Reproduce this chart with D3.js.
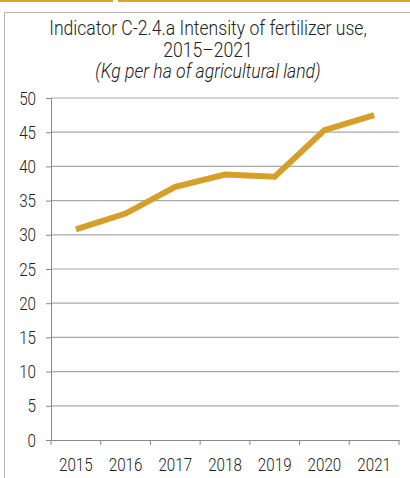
<!DOCTYPE html>
<html>
<head>
<meta charset="utf-8">
<script src="https://cdn.jsdelivr.net/npm/d3@7"></script>
<style>
  body { margin: 0; background: #fff; }
  text { font-family: Roboto, sans-serif; font-weight: 300; fill: #222; }
</style>
</head>
<body>
<div id="chart"></div>
<script>
// data
var years = ["2015", "2016", "2017", "2018", "2019", "2020", "2021"];
var values = [30.8, 33.1, 37.0, 38.8, 38.5, 45.3, 47.5];
var yTicks = [0, 5, 10, 15, 20, 25, 30, 35, 40, 45, 50];
var titleLines = ["Indicator C-2.4.a Intensity of fertilizer use,", "2015\u20132021"];
var subtitle = "(Kg per ha of agricultural land)";

var W = 410, H = 478;
var margin = { top: 98, right: 11, bottom: 38, left: 51 };
var w = W - margin.left - margin.right;
var h = H - margin.top - margin.bottom;
var squeeze = 0.8; // narrow the font, the original uses a condensed face

var svg = d3.select('#chart').append('svg')
    .attr('width', W)
    .attr('height', H);

// gold strips on top and grey frame
svg.append('rect').attr('x', 0).attr('y', 0).attr('width', 113).attr('height', 2).attr('fill', '#e0a526');
svg.append('rect').attr('x', 118).attr('y', 0).attr('width', 292).attr('height', 2).attr('fill', '#e0a526');
svg.append('path')
    .attr('d', 'M4.5,478 V12.5 H410')
    .attr('fill', 'none')
    .attr('stroke', '#b5b5b5')
    .attr('stroke-width', 1);

// title
svg.selectAll('.title')
    .data(titleLines)
    .enter()
    .append('text')
    .attr('class', 'title')
    .attr('transform', (d, i) => 'translate(208,' + (35 + i * 22) + ') scale(0.88,1)')
    .attr('text-anchor', 'middle')
    .attr('font-size', '20px')
    .text(d => d);

svg.append('text')
    .attr('transform', 'translate(208,78) scale(0.88,1)')
    .attr('text-anchor', 'middle')
    .attr('font-size', '20px')
    .attr('font-style', 'italic')
    .text(subtitle);

var g = svg.append('g')
    .attr('transform', 'translate(' + margin.left + ',' + margin.top + ')');

var xScale = d3.scaleBand().domain(years).range([0, w]);
var yScale = d3.scaleLinear().domain([0, 50]).range([h, 0]);

// gridlines
g.selectAll('.grid')
    .data(yTicks.filter(d => d > 0))
    .enter()
    .append('line')
    .attr('x1', 0)
    .attr('x2', w)
    .attr('y1', d => yScale(d))
    .attr('y2', d => yScale(d))
    .attr('stroke', '#a8a8a8')
    .attr('stroke-width', 1.2);

// y axis
var yAxis = g.append('g')
    .call(d3.axisLeft(yScale).tickValues(yTicks).tickSize(5));
yAxis.select('.domain').attr('stroke', '#888');
yAxis.selectAll('.tick line').attr('stroke', '#888');
yAxis.selectAll('text')
    .attr('font-size', '19px')
    .attr('fill', '#222')
    .attr('x', -15 / squeeze)
    .attr('transform', 'scale(' + squeeze + ',1)');

// x axis with ticks at band edges
var xAxis = g.append('g')
    .attr('transform', 'translate(0,' + h + ')')
    .call(d3.axisBottom(xScale).tickSize(0));
xAxis.select('.domain').attr('stroke', '#888');
xAxis.selectAll('text')
    .attr('font-size', '19px')
    .attr('fill', '#222')
    .attr('y', 31)
    .attr('dy', 0)
    .attr('transform', 'scale(' + squeeze + ',1)');
g.selectAll('.xtick')
    .data(years.concat(['end']))
    .enter()
    .append('line')
    .attr('x1', (d, i) => i * xScale.bandwidth())
    .attr('x2', (d, i) => i * xScale.bandwidth())
    .attr('y1', h)
    .attr('y2', h + 5)
    .attr('stroke', '#888');

// line
var line = d3.line()
    .x((d, i) => xScale(years[i]) + xScale.bandwidth() / 2)
    .y(d => yScale(d));

g.append('path')
    .datum(values)
    .attr('d', line)
    .attr('fill', 'none')
    .attr('stroke', '#d5a02a')
    .attr('stroke-width', 6);
</script>
</body>
</html>
